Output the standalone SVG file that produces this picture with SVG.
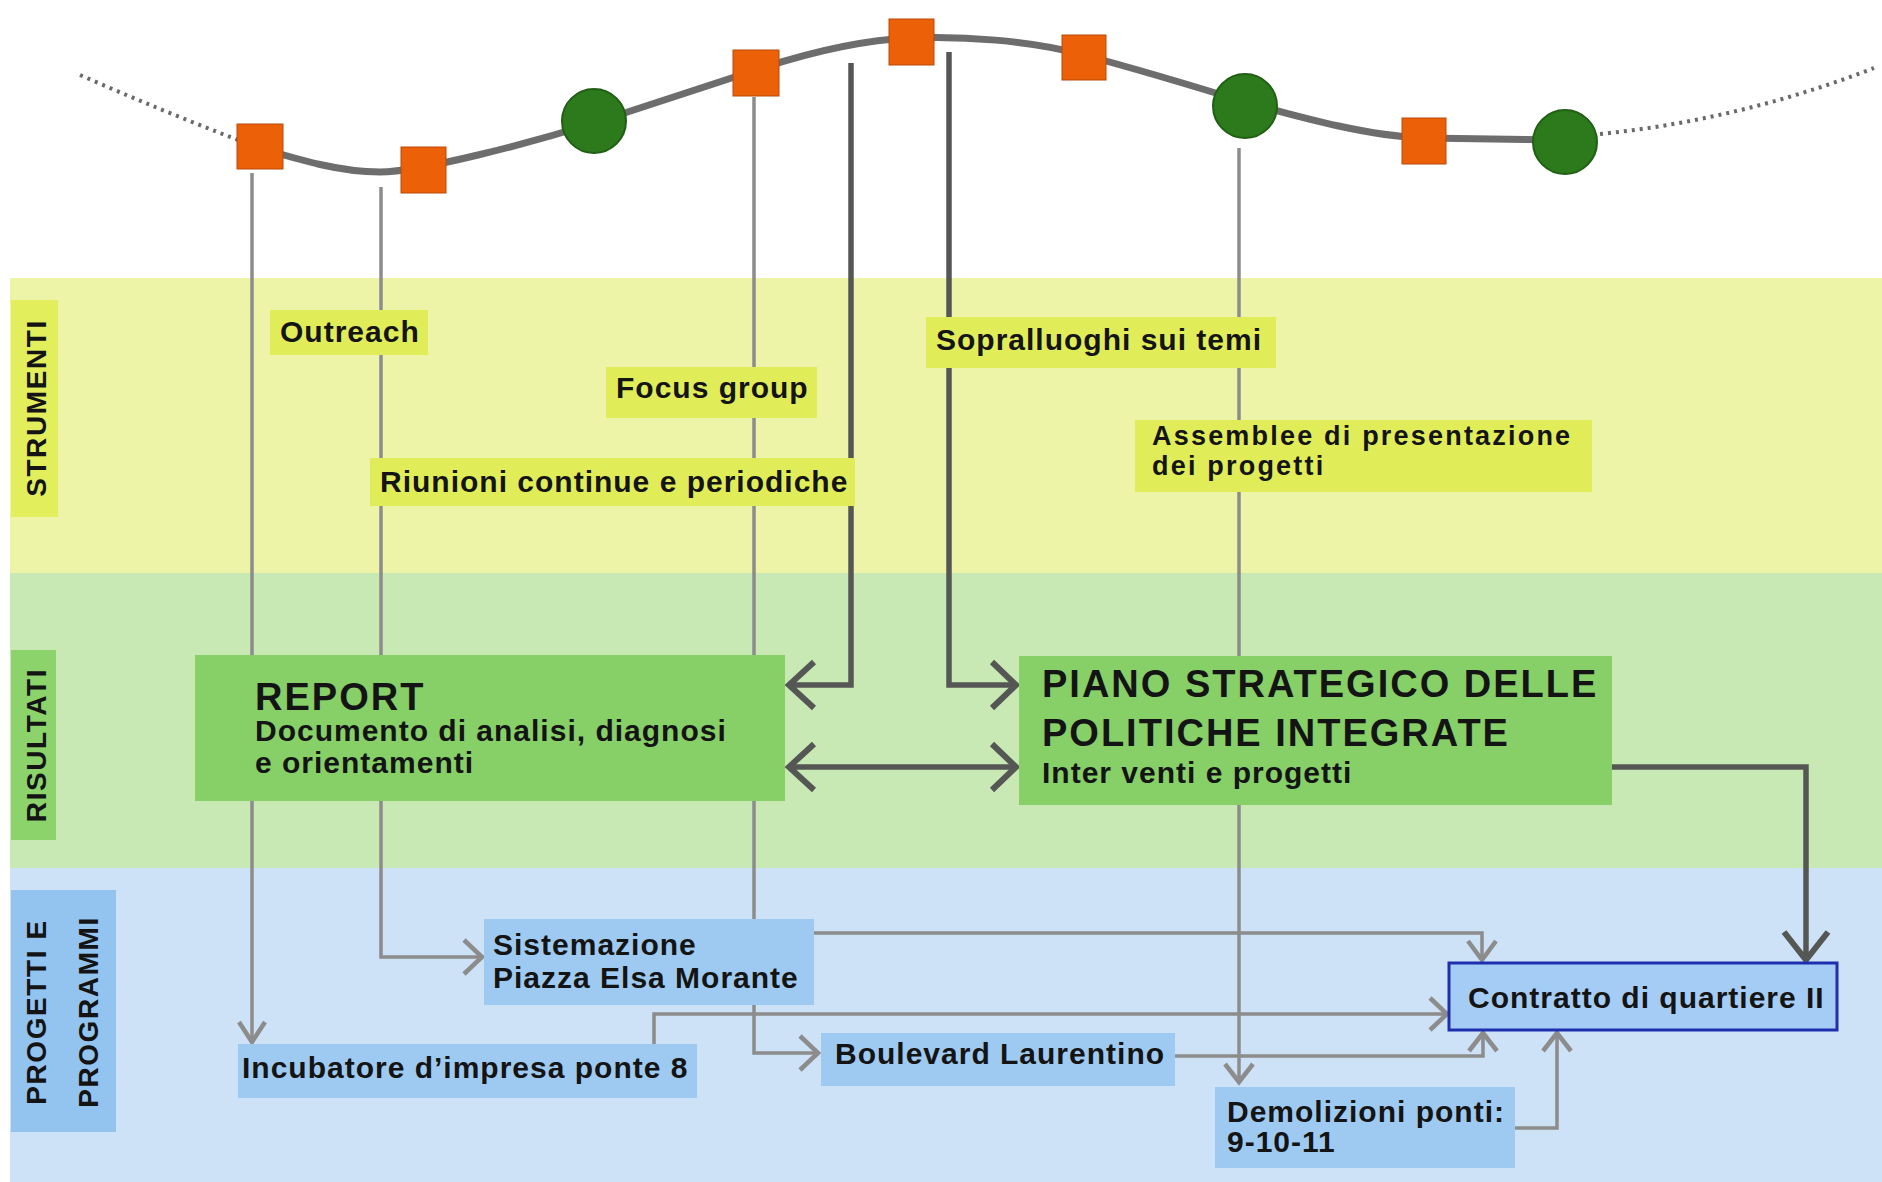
<svg xmlns="http://www.w3.org/2000/svg" width="1882" height="1182" viewBox="0 0 1882 1182">
<style>
.t{font-family:"Liberation Sans",Arial,sans-serif;font-weight:bold;font-size:30px;fill:#141414;letter-spacing:1px}
.h{font-size:38px;letter-spacing:2px}
.a{font-size:27px;letter-spacing:2.2px}
.side{font-family:"Liberation Sans",Arial,sans-serif;font-weight:bold;font-size:28px;fill:#141414;letter-spacing:1.6px;text-anchor:middle}
.thin{fill:none;stroke:#8c8c8c;stroke-width:3.5}
.thinh{fill:none;stroke:#8c8c8c;stroke-width:4.5;stroke-linejoin:miter}
.dark{fill:none;stroke:#555755;stroke-width:5.5}
.darkh{fill:none;stroke:#555755;stroke-width:6;stroke-linejoin:miter}
.lab{fill:#e1ed58}
.res{fill:#87cf67}
.prj{fill:#9ecaf1}
.sq{fill:#ec6008;stroke:#b84a06;stroke-width:1}
.ci{fill:#2c7a1c;stroke:#215f14;stroke-width:2}
</style>
<rect x="0" y="0" width="1882" height="1182" fill="#ffffff"/>
<g id="bands">
<rect x="10" y="278" width="1872" height="296" fill="#eef4a7"/>
<rect x="10" y="573" width="1872" height="296" fill="#c8e8b4"/>
<rect x="10" y="868" width="1872" height="314" fill="#cde2f7"/>
</g>
<g id="side-labels">
<rect x="11" y="300" width="47" height="217" fill="#e2ee5c"/>
<text class="side" transform="translate(46,408) rotate(-90)">STRUMENTI</text>
<rect x="11" y="650" width="45" height="190" fill="#8dd36b"/>
<text class="side" transform="translate(46,745) rotate(-90)">RISULTATI</text>
<rect x="11" y="890" width="105" height="242" fill="#93c3ef"/>
<text class="side" transform="translate(46,1012) rotate(-90)">PROGETTI E</text>
<text class="side" transform="translate(98,1012) rotate(-90)">PROGRAMMI</text>
</g>
<g id="timeline">
<path d="M 80 75 Q 160 110 238 140" fill="none" stroke="#6a6a6a" stroke-width="4" stroke-dasharray="3 5"/>
<path d="M 1600 134 Q 1740 120 1874 68" fill="none" stroke="#6a6a6a" stroke-width="4" stroke-dasharray="3 5"/>
<path d="M 260 148 C 300 160, 340 172, 380 172 C 420 172, 530 143, 594 123 C 650 105, 700 88, 756 70 C 810 52, 860 40, 911 38 C 960 36, 1030 40, 1084 55 C 1140 70, 1190 85, 1245 102 C 1310 120, 1370 136, 1424 138 L 1565 140" fill="none" stroke="#6d6d6d" stroke-width="7"/>
</g>
<g id="connectors">
<path class="thin" d="M 252 173 V 1040"/>
<polyline class="thinh" points="239,1022 252,1042 265,1022"/>
<path class="thin" d="M 381 187 V 957 H 480"/>
<polyline class="thinh" points="464,940 482,957 464,974"/>
<path class="thin" d="M 754 97 V 1053 H 816"/>
<polyline class="thinh" points="800,1036 818,1053 800,1070"/>
<path class="thin" d="M 813 933 H 1482 V 958"/>
<polyline class="thinh" points="1468,941 1482,960 1496,941"/>
<path class="thin" d="M 654 1045 V 1014 H 1445"/>
<polyline class="thinh" points="1430,998 1447,1014 1430,1030"/>
<path class="thin" d="M 1175 1056 H 1483 V 1035"/>
<polyline class="thinh" points="1469,1051 1483,1033 1497,1051"/>
<path class="thin" d="M 1239 148 V 1080"/>
<polyline class="thinh" points="1225,1064 1239,1082 1253,1064"/>
<path class="thin" d="M 1515 1128 H 1557 V 1035"/>
<polyline class="thinh" points="1543,1051 1557,1033 1571,1051"/>
<path class="dark" d="M 851 63 V 685 H 790"/>
<polyline class="darkh" points="814,662 789,685 814,708"/>
<path class="dark" d="M 949 52 V 685 H 1015"/>
<polyline class="darkh" points="992,662 1016,685 992,708"/>
<path class="dark" d="M 790 767 H 1015"/>
<polyline class="darkh" points="814,744 789,767 814,790"/>
<polyline class="darkh" points="992,744 1016,767 992,790"/>
<path class="dark" d="M 1612 767 H 1806 V 957"/>
<polyline class="darkh" points="1784,932 1806,960 1828,932"/>
</g>
<g id="milestones">
<rect class="sq" x="237" y="124" width="46" height="45"/>
<rect class="sq" x="401" y="147" width="45" height="46"/>
<ellipse class="ci" cx="594" cy="121" rx="32" ry="32"/>
<rect class="sq" x="733" y="50" width="46" height="46"/>
<rect class="sq" x="889" y="19" width="45" height="46"/>
<rect class="sq" x="1062" y="35" width="44" height="45"/>
<ellipse class="ci" cx="1245" cy="106" rx="32" ry="32"/>
<rect class="sq" x="1402" y="118" width="44" height="46"/>
<ellipse class="ci" cx="1565" cy="142" rx="32" ry="32"/>
</g>
<g id="outreach"><rect class="lab" x="270" y="310" width="158" height="45"/><text class="t" x="280" y="342">Outreach</text></g>
<g id="focus-group"><rect class="lab" x="606" y="367" width="211" height="51"/><text class="t" x="616" y="398">Focus group</text></g>
<g id="riunioni"><rect class="lab" x="370" y="458" width="485" height="48"/><text class="t" x="380" y="492">Riunioni continue e periodiche</text></g>
<g id="sopralluoghi"><rect class="lab" x="926" y="317" width="350" height="51"/><text class="t" x="936" y="350">Sopralluoghi sui temi</text></g>
<g id="assemblee"><rect class="lab" x="1135" y="420" width="457" height="72"/><text class="t a" x="1152" y="445">Assemblee di presentazione</text><text class="t a" x="1152" y="475">dei progetti</text></g>
<g id="report"><rect class="res" x="195" y="655" width="590" height="146"/><text class="t h" x="255" y="710">REPORT</text><text class="t" x="255" y="741">Documento di analisi, diagnosi</text><text class="t" x="255" y="773">e orientamenti</text></g>
<g id="piano"><rect class="res" x="1019" y="656" width="593" height="149"/><text class="t h" x="1042" y="697">PIANO STRATEGICO DELLE</text><text class="t h" x="1042" y="746">POLITICHE INTEGRATE</text><text class="t" x="1042" y="783">Inter venti e progetti</text></g>
<g id="sistemazione"><rect class="prj" x="484" y="919" width="330" height="86"/><text class="t" x="493" y="955">Sistemazione</text><text class="t" x="493" y="988">Piazza Elsa Morante</text></g>
<g id="incubatore"><rect class="prj" x="238" y="1044" width="459" height="54"/><text class="t" x="242" y="1078">Incubatore d’impresa ponte 8</text></g>
<g id="boulevard"><rect class="prj" x="821" y="1033" width="354" height="53"/><text class="t" x="835" y="1064">Boulevard Laurentino</text></g>
<g id="demolizioni"><rect class="prj" x="1215" y="1087" width="300" height="81"/><text class="t" x="1227" y="1122">Demolizioni ponti:</text><text class="t" x="1227" y="1152">9-10-11</text></g>
<g id="contratto"><rect x="1449" y="963" width="388" height="67" fill="#a5ccf4" stroke="#1e2fae" stroke-width="3"/><text class="t" x="1468" y="1008">Contratto di quartiere II</text></g>
</svg>
